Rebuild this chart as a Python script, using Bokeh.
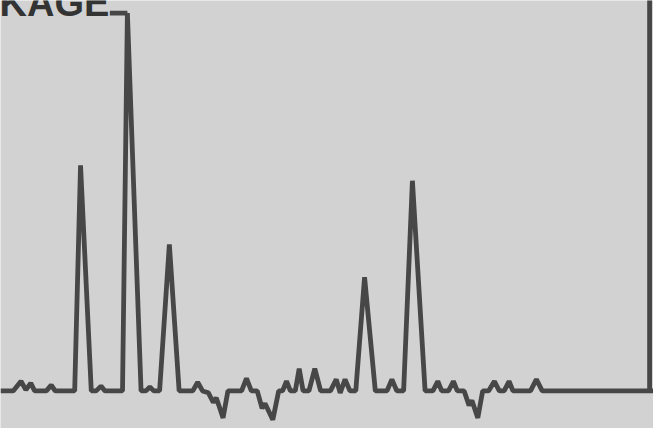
from bokeh.plotting import figure
from bokeh.models import Range1d
from bokeh.core.properties import value
from bokeh.embed import file_html
from bokeh.resources import INLINE

# Trace of the signal: position along the strip and deflection above the baseline
pos = [0, 13, 21, 26, 31, 35, 47, 52, 56, 76, 82, 93, 98, 103, 107, 125, 130, 144,
       149, 153, 157, 163, 173, 183, 197, 202, 207, 213, 218, 221, 224, 228, 233,
       247, 252, 257, 263, 268, 271, 279, 285, 289, 293, 297, 302, 306, 310, 316,
       322, 328, 338, 344, 348, 353, 358, 364, 373, 384, 396, 401, 406, 413, 422,
       435, 443, 448, 452, 459, 464, 468, 475, 480, 483, 489, 494, 500, 506, 511,
       516, 521, 525, 543, 549, 555, 669]
deflection = [0, 0, 10, 1, 8, 0, 0, 6, 0, 0, 234, 0, 0, 5, 0, 0, 392, 0,
              0, 4, 0, 0, 152, 0, 0, 9, 0, -2, -12, -7, -16, -28, 0,
              0, 13, 0, 0, -18, -13, -30, 0, 0, 10, 0, 0, 23, 0, 0,
              23, 0, 0, 12, -2, 12, 0, 0, 118, 0, 0, 12, 0, 0, 218,
              0, 0, 10, 0, 0, 10, 0, 0, -15, -10, -28, 0, 0, 10, 0,
              0, 10, 0, 0, 12, 0, 0]

title_text = "KAGE"

# frame pieces (title rule and right edge)
rule_x = [112, 130]
rule_y = [392, 392]
edge_x = [665, 665]
edge_y = [0, 460]

W, H = 653, 428
p = figure(width=W, height=H, output_backend="svg", toolbar_location=None,
           x_range=Range1d(0, 669), y_range=Range1d(-39, 405),
           min_border=0, background_fill_color="#d2d2d2",
           border_fill_color="#d2d2d2", outline_line_color=None)
p.axis.visible = False
p.grid.visible = False

LC = "#474747"
p.line(pos, deflection, line_color=LC, line_width=4.8)
p.line(rule_x, rule_y, line_color=LC, line_width=4.8)
p.line(edge_x, edge_y, line_color=LC, line_width=4.8)

p.text(x=[-1], y=[402], text=[title_text], text_font=value("Liberation Sans"),
       text_font_style="bold", text_font_size="38px", text_color="#333333",
       text_baseline="alphabetic", text_align="left")

open("out.html", "w").write(file_html(p, INLINE))
